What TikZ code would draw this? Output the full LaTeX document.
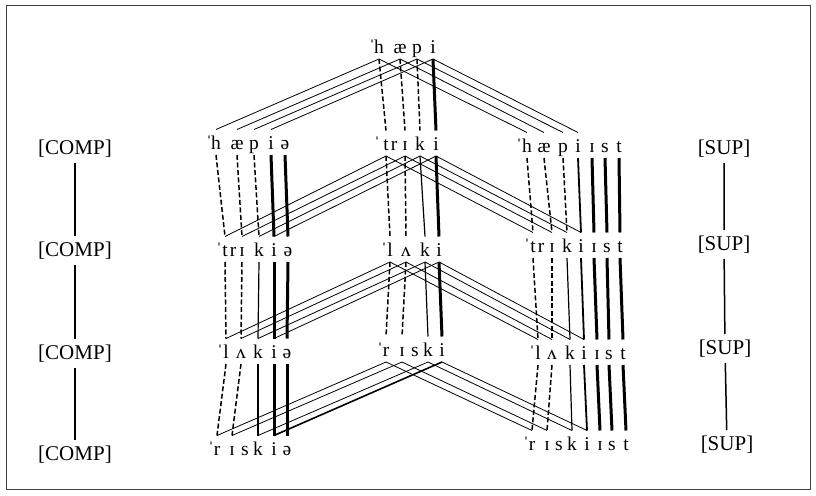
\documentclass[tikz,border=0pt]{standalone}
\usepackage{fontspec}
\setmainfont{Liberation Serif}

% one transcribed word: a stress mark followed by one node per segment
\newcommand\phonword[4]{%
  \node[stressmark] (#1-s) at (#3,#2) {ˈ};
  \foreach \px/\ch [count=\k] in {#4} {\node[seg] (#1-\k) at (\px,#2) {\ch};}%
}
% segment-to-segment links between two words
\newcommand\phonlinks[3]{%
  \foreach \a/\b/\st in {#3} {\draw[\st] (#1-\a.south) -- (#2-\b.north);}%
}

\begin{document}
\begin{tikzpicture}[x=1pt,y=-1pt,
  seg/.style={font=\fontsize{19.5}{19.5}\selectfont, inner sep=0pt, outer ysep=6pt,
              text height=13.5pt, text depth=0pt, anchor=base},
  stressmark/.style={font=\fontsize{19.5}{19.5}\selectfont, inner sep=0pt, anchor=base},
  lab/.style={font=\fontsize{21}{21}\selectfont, inner sep=0pt, outer ysep=5pt,
              text height=15pt, text depth=4pt, anchor=base},
  labline/.style={line width=1.5pt},
  corr/.style={line width=0.8pt},
  boldcorr/.style={line width=1.6pt},
  dsh/.style={line width=1.5pt, dash pattern=on 5pt off 2.5pt},
  same/.style={line width=1.2pt},
  mid/.style={line width=1.8pt},
  idline/.style={line width=3pt},
  frame/.style={draw=black!75, line width=1pt}]

\useasboundingbox (0,0) rectangle (816,495);
\draw[frame] (6,6) rectangle (810,489);

% words
\phonword{w0}{53}{372}{379/h,400/æ,417/p,433/i}
\phonword{l1}{149}{209}{216/h,237/æ,254/p,271/i,285/ə}
\phonword{c1}{150}{377}{386/t,394/r,405/ɪ,420/k,436/i}
\phonword{r1}{152}{519}{527/h,544/æ,563/p,578/i,592/ɪ,605/s,619/t}
\phonword{l2}{256}{219}{225/t,233/r,242/ɪ,259/k,274/i,288/ə}
\phonword{c2}{256}{384}{390/l,406/ʌ,425/k,439/i}
\phonword{r2}{252}{527}{533/t,541/r,552/ɪ,567/k,581/i,594/ɪ,607/s,620/t}
\phonword{l3}{358}{220}{226/l,241/ʌ,258/k,274/i,287/ə}
\phonword{c3}{356}{380}{386/r,402/ɪ,415/s,428/k,442/i}
\phonword{r3}{359}{532}{538/l,552/ʌ,570/k,584/i,597/ɪ,609/s,623/t}
\phonword{l4}{455}{211}{217/r,232/ɪ,245/s,258/k,274/i,287/ə}
\phonword{r4}{450}{526}{532/r,547/ɪ,559/s,572/k,587/i,600/ɪ,612/s,626/t}

% diagonal correspondences
\phonlinks{w0}{l1}{1/1/corr,2/2/corr,3/3/corr,4/4/corr}
\phonlinks{w0}{r1}{1/1/corr,2/2/corr,3/3/corr,4/4/corr}
\phonlinks{c1}{l2}{1/1/corr,3/3/corr,4/4/corr,5/5/corr}
\phonlinks{c1}{r2}{1/1/corr,3/3/corr,4/4/corr,5/5/corr}
\phonlinks{c2}{l3}{1/1/corr,2/2/corr,3/3/corr,4/4/corr}
\phonlinks{c2}{r3}{1/1/corr,2/2/corr,3/3/corr,4/4/corr}
\phonlinks{c3}{l4}{1/1/corr,2/2/corr,4/4/corr,5/5/boldcorr}
\phonlinks{c3}{r4}{1/1/corr,2/2/corr,4/4/corr,5/5/corr}

% centre column
\phonlinks{w0}{c1}{1/1/dsh,2/3/dsh,3/4/dsh,4/5/idline}
\phonlinks{c1}{c2}{1/1/dsh,3/2/dsh,4/3/same,5/4/idline}
\phonlinks{c2}{c3}{1/1/dsh,2/2/dsh,3/4/same,4/5/idline}

% comparative column
\phonlinks{l1}{l2}{1/1/dsh,2/3/dsh,3/4/dsh,4/5/idline,5/6/idline}
\phonlinks{l2}{l3}{1/1/dsh,3/2/dsh,4/3/same,5/4/idline,6/5/idline}
\phonlinks{l3}{l4}{1/1/dsh,2/2/dsh,3/4/same,4/5/idline,5/6/idline}

% superlative column
\phonlinks{r1}{r2}{1/1/dsh,2/3/dsh,3/4/dsh,4/5/mid,5/6/idline,6/7/idline,7/8/idline}
\phonlinks{r2}{r3}{1/1/dsh,3/2/dsh,4/3/same,5/4/mid,6/5/idline,7/6/idline,8/7/idline}
\phonlinks{r3}{r4}{1/1/dsh,2/2/dsh,3/4/same,4/5/mid,5/6/idline,6/7/idline,7/8/idline}

% side labels
\node[lab] (cp1) at (75,154) {[COMP]};
\node[lab] (cp2) at (75,256) {[COMP]};
\node[lab] (cp3) at (75,359) {[COMP]};
\node[lab] (cp4) at (75,460) {[COMP]};
\node[lab] (sp1) at (724,154) {[SUP]};
\node[lab] (sp2) at (724,250) {[SUP]};
\node[lab] (sp3) at (725,354) {[SUP]};
\node[lab] (sp4) at (727,450) {[SUP]};
\draw[labline] (cp1) -- (cp2) (cp2) -- (cp3) (cp3) -- (cp4);
\draw[labline] (sp1) -- (sp2) (sp2) -- (sp3) (sp3) -- (sp4);
\end{tikzpicture}
\end{document}
